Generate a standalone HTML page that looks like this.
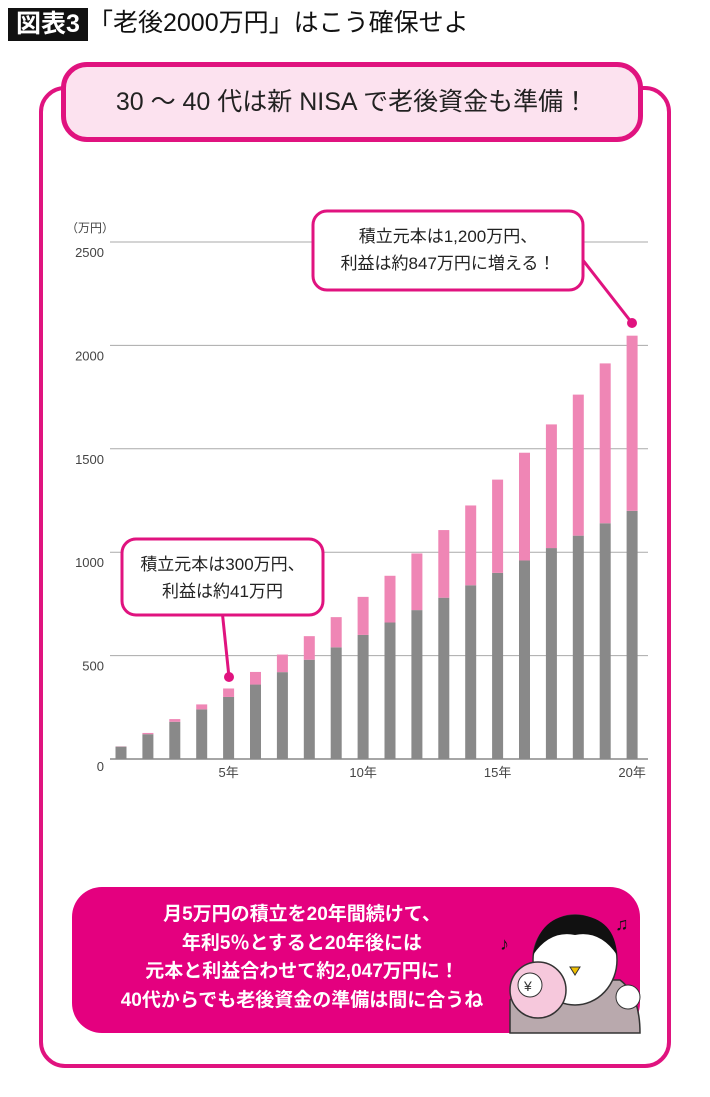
<!DOCTYPE html>
<html><head><meta charset="utf-8"><style>
body{margin:0;width:710px;height:1097px;background:#fff;font-family:"Liberation Sans","Noto Sans CJK JP",sans-serif;overflow:hidden;position:relative}
.abs{position:absolute}
</style></head><body>
<div class="abs" style="left:8px;top:8px;width:80px;height:33px;background:#111;color:#fff;font-size:25px;font-weight:bold;line-height:33px;text-align:center">図表3</div>
<div class="abs" style="left:88px;top:6px;font-size:25px;line-height:34px;color:#111">「老後2000万円」はこう確保せよ</div>
<div class="abs" style="left:39px;top:86px;width:624px;height:974px;border:4px solid #e0137f;border-radius:26px"></div>
<div class="abs" style="left:61px;top:62px;width:572px;height:70px;background:#fce2ef;border:5px solid #e0137f;border-radius:26px;text-align:center;font-size:25px;line-height:70px;color:#222">30 ～ 40 代は新 NISA で老後資金も準備！</div>
<svg class="abs" style="left:0;top:0" width="710" height="1097" id="chart"></svg>
<div class="abs" style="left:72px;top:887px;width:568px;height:146px;background:#e4007f;border-radius:30px"></div>
<div class="abs" style="left:72px;top:901px;width:460px;text-align:center;color:#fff;font-weight:bold;font-size:19px;line-height:28.5px">月5万円の積立を20年間続けて、<br>年利5％とすると20年後には<br>元本と利益合わせて約2,047万円に！<br>40代からでも老後資金の準備は間に合うね</div>
<svg class="abs" style="left:490px;top:905px" width="160" height="130">
<path d="M20 128 L20 95 Q40 80 70 75 L130 75 Q150 90 150 128 Z" fill="#b9a9ad" stroke="#333" stroke-width="1.5"/>
<ellipse cx="85" cy="55" rx="42" ry="45" fill="#fff" stroke="#333" stroke-width="1.5"/>
<path d="M43 50 Q50 8 90 10 Q125 14 127 50 Q110 25 85 30 Q60 25 43 50Z" fill="#111"/>
<path d="M80 62 L90 62 L85 70Z" fill="#f0c000" stroke="#333"/>
<circle cx="48" cy="85" r="28" fill="#f6c8dc" stroke="#333" stroke-width="1.5"/>
<circle cx="40" cy="80" r="12" fill="#fff" stroke="#333"/>
<text x="34" y="86" font-size="14" fill="#333">¥</text>
<circle cx="138" cy="92" r="12" fill="#fff" stroke="#333"/>
<text x="125" y="25" font-size="18" fill="#111">♫</text><text x="10" y="45" font-size="18" fill="#111">♪</text>
</svg>
<script>
const years=[1,2,3,4,5,6,7,8,9,10,11,12,13,14,15,16,17,18,19,20];
const principal=[60,120,180,240,300,360,420,480,540,600,660,720,780,840,900,960,1020,1080,1140,1200];
const totals=[61,126,193,264,341,421,505,594,686,784,886,994,1107,1226,1351,1481,1618,1762,1913,2047];
const yTicks=[0,500,1000,1500,2000,2500];
const xTickYears=[5,10,15,20];
const NS="http://www.w3.org/2000/svg";
const svg=document.getElementById('chart');
const y=v=>759-v*0.2068;
const x=i=>121+(i-1)*26.9;
function mk(t,a){const e=document.createElementNS(NS,t);for(const k in a)e.setAttribute(k,a[k]);svg.appendChild(e);return e;}
yTicks.forEach(t=>{
 const l=mk('line',{x1:110,x2:648,y1:y(t),y2:y(t),stroke:t===0?'#888':'#aaa','stroke-width':t===0?1.5:1});
 
 
 const tx=mk('text',{x:104,y:y(t)+(t===0?12:15),'text-anchor':'end','font-size':13,fill:'#444'});
 tx.textContent=t;
 
 
});
const u=mk('text',{x:66,y:232,'font-size':12,fill:'#444'});u.textContent='（万円）';


years.forEach((yr,i)=>{
 const cx=x(yr);
 const g=mk('rect',{x:cx-5.5,y:y(principal[i]),width:11,height:y(0)-y(principal[i]),fill:'#898989'});
 
 
 const p=mk('rect',{x:cx-5.5,y:y(totals[i]),width:11,height:y(principal[i])-y(totals[i]),fill:'#ef86b5'});
 
 
});
xTickYears.forEach(yr=>{
 const t=mk('text',{x:x(yr),y:777,'text-anchor':'middle','font-size':13,fill:'#444'});t.textContent=yr+'年';
 
 
});
function callout(bx,by,bw,bh,lines,lx,ly,px,py,name){
 mk('line',{x1:lx,y1:ly,x2:px,y2:py,stroke:'#e0137f','stroke-width':3});
 mk('circle',{cx:px,cy:py,r:5,fill:'#e0137f'});
 const r=mk('rect',{x:bx,y:by,width:bw,height:bh,rx:14,fill:'#fff',stroke:'#e0137f','stroke-width':3});
 
 
 lines.forEach((s,k)=>{const t=mk('text',{x:bx+bw/2,y:by+31+k*27,'text-anchor':'middle','font-size':17,fill:'#222'});t.textContent=s;});
}
callout(313,211,270,79,['積立元本は1,200万円、','利益は約847万円に増える！'],575,250,632,323,'callout-20-years');
callout(122,539,201,76,['積立元本は300万円、','利益は約41万円'],221,600,229,677,'callout-5-years');
</script>
</body></html>
